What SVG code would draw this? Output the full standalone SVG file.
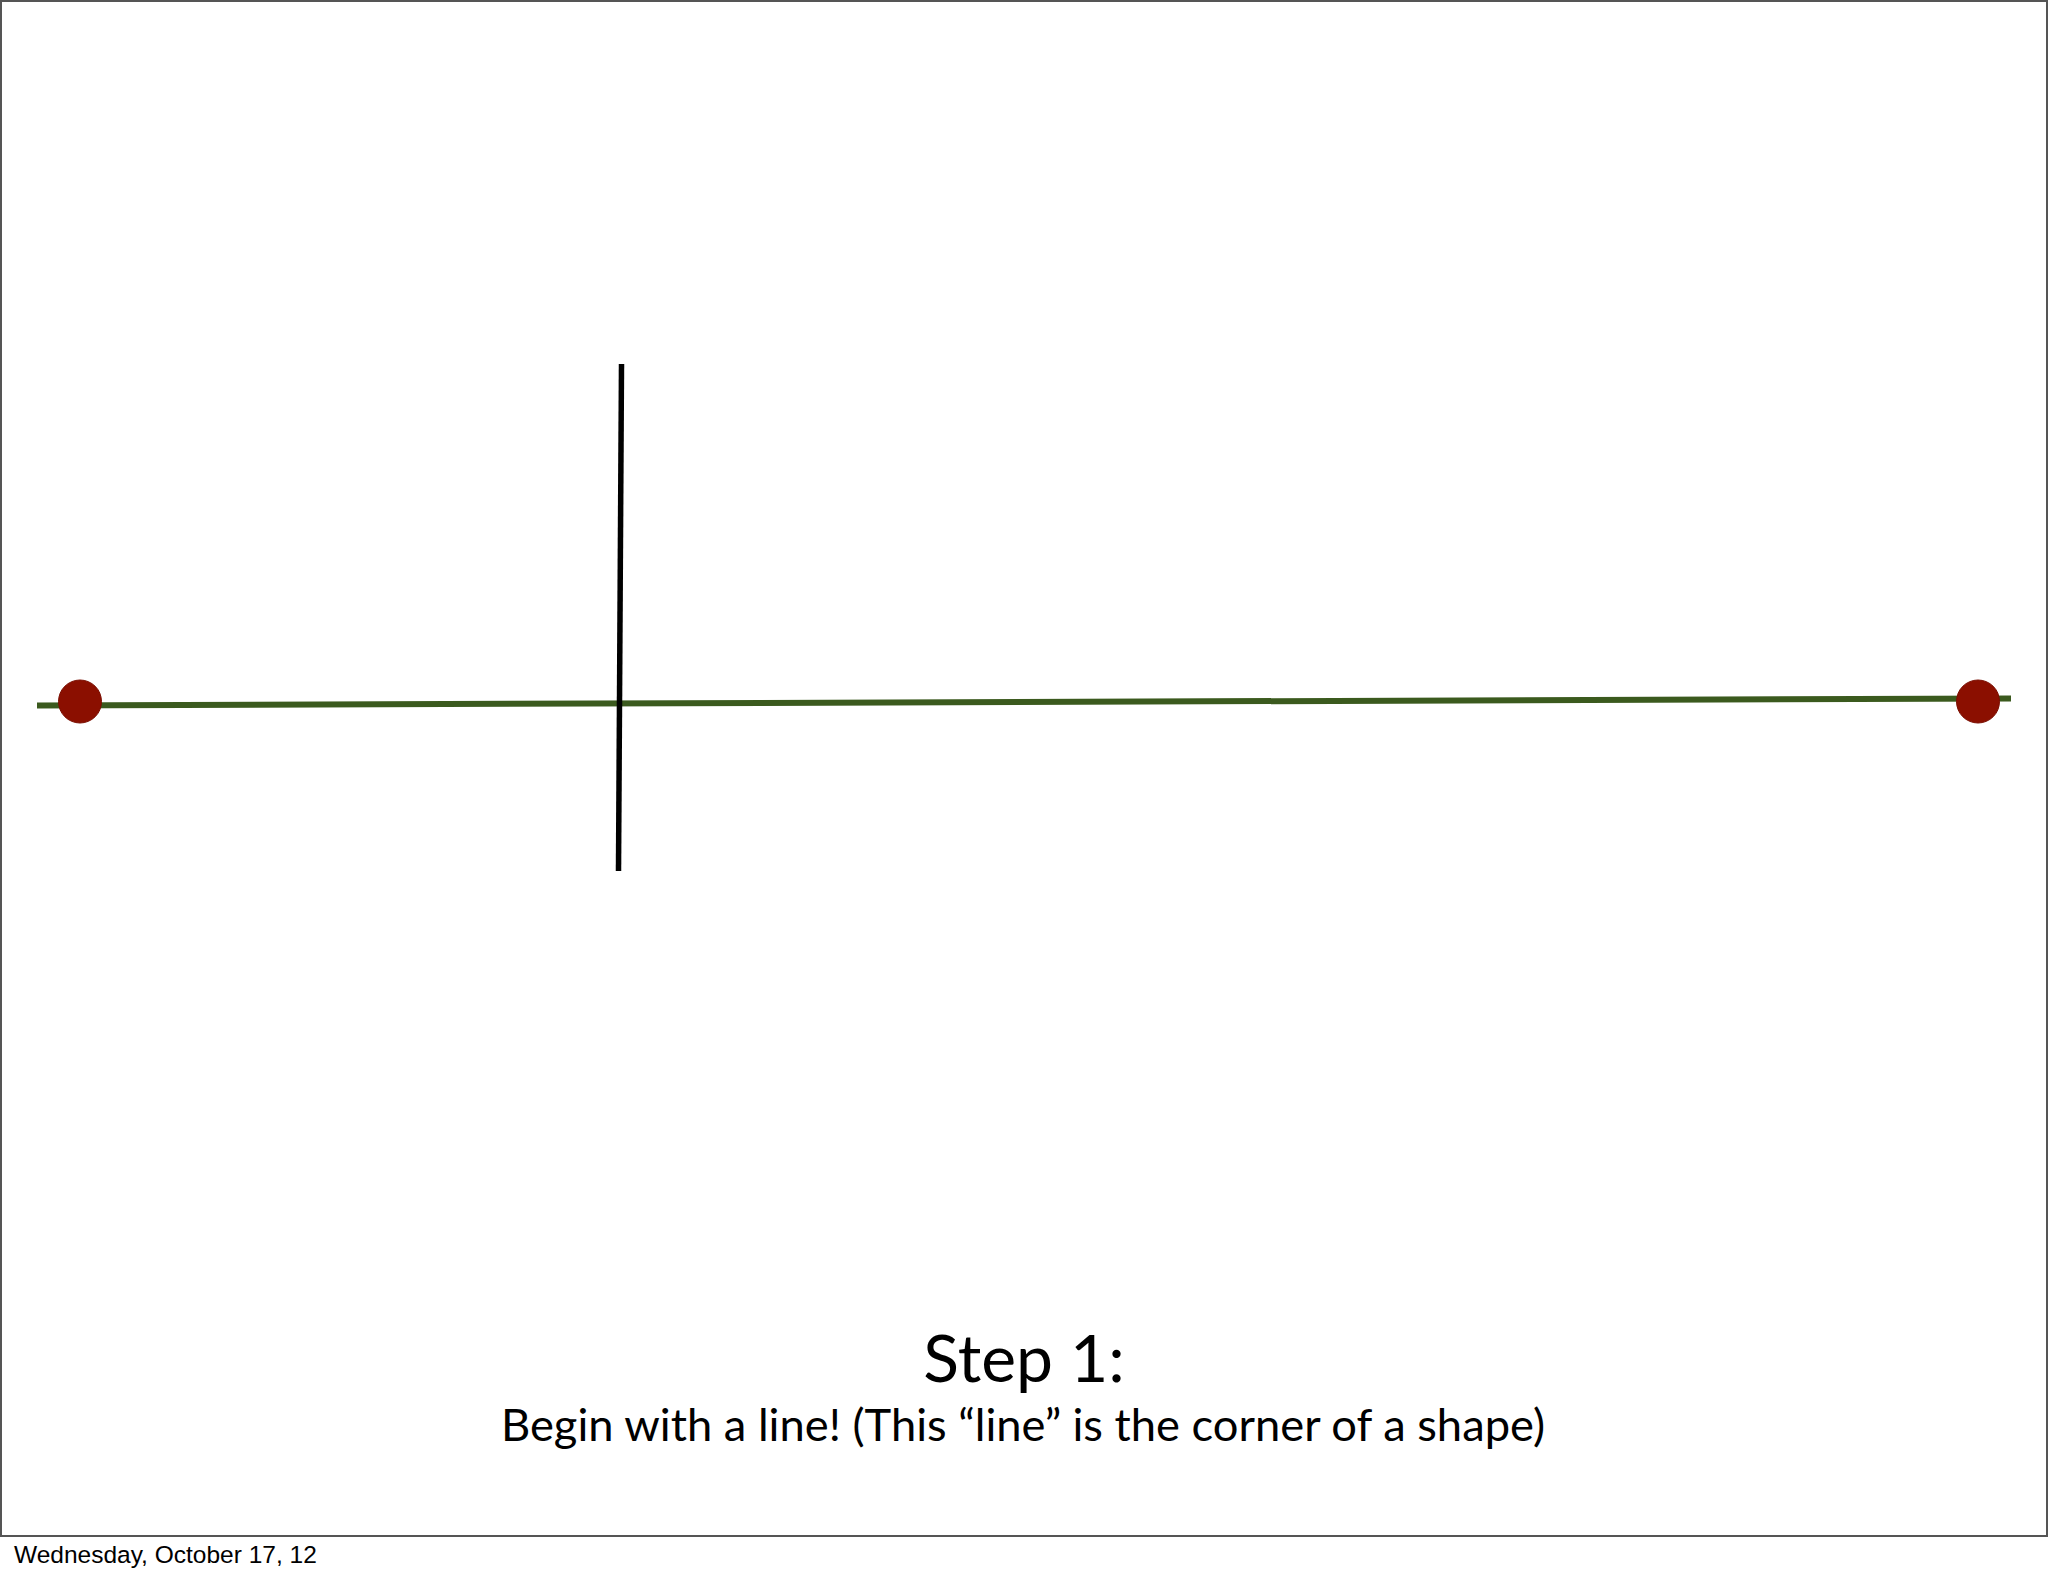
<svg xmlns="http://www.w3.org/2000/svg" width="2048" height="1576" viewBox="0 0 2048 1576">
<style>
.title{font-family:"Lato","Open Sans","Noto Sans",sans-serif;fill:#000;text-anchor:middle}
.footer{font-family:"Liberation Sans",Arial,sans-serif;font-size:24.5px;fill:#000}
.dot{fill:#8b0f00;stroke:#7a0d00;stroke-width:1}
</style>
<rect x="0" y="0" width="2048" height="1576" fill="#fff"/>
<rect id="frame" x="1" y="1" width="2046" height="1535" fill="none" stroke="#555" stroke-width="2"/>
<g id="connectors">
<line x1="37" y1="705.5" x2="2011" y2="698.5" stroke="#3b5a1e" stroke-width="6"/>
<line x1="621.5" y1="364" x2="618.5" y2="871" stroke="#000" stroke-width="5.5"/>
</g>
<g id="dot-left"><circle class="dot" cx="80" cy="701.5" r="21.5"/></g>
<g id="dot-right"><circle class="dot" cx="1978" cy="701.5" r="21.5"/></g>
<g id="caption">
<text class="title" x="1024" y="1382" font-size="66">Step 1:</text>
<text class="title" x="1023" y="1441" font-size="45.3">Begin with a line! (This “line” is the corner of a shape)</text>
</g>
<text class="footer" x="14" y="1563">Wednesday, October 17, 12</text>
</svg>
